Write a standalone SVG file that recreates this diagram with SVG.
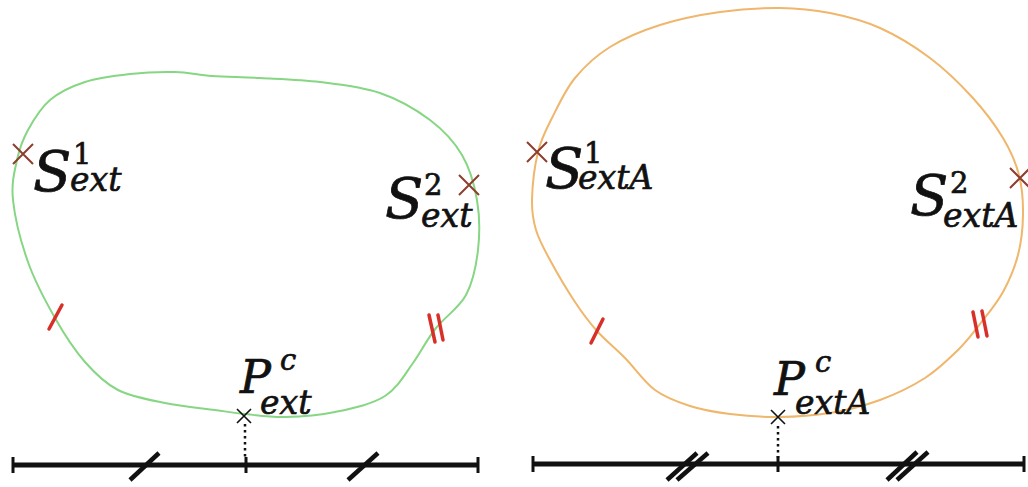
<svg xmlns="http://www.w3.org/2000/svg" width="1028" height="487" viewBox="0 0 1028 487">
<style>
.lbl{font-family:"DejaVu Serif","Liberation Serif",serif;font-style:italic;fill:#111;stroke:#111;stroke-width:0.7}
.big{font-size:56px}
.pbig{font-size:46px}
.sub{font-size:33px}
.sup{font-size:29px;font-style:normal}
.supi{font-size:29px}
.green{fill:none;stroke:#86d683;stroke-width:2}
.orange{fill:none;stroke:#efb66c;stroke-width:2}
.tick{stroke:#d83028;stroke-width:3.5;stroke-linecap:round}
.cross{stroke:#8e3e2e;stroke-width:2}
.pcross{stroke:#111;stroke-width:1.6}
.base{stroke:#111;stroke-width:5}
.cap{stroke:#111;stroke-width:3}
.slash{stroke:#111;stroke-width:4.5}
.dot{stroke:#111;stroke-width:2.5;stroke-dasharray:2.5 3.5}
</style>
<rect width="1028" height="487" fill="#fff"/>
<g id="curve-ext">
<path class="green" d="M13,200 C11.2,183 14.5,171.7 17,160 C19.5,148.3 22.5,140 28,130 C33.5,120 40.5,108 50,100 C59.5,92 71.7,86.3 85,82 C98.3,77.7 115,75.7 130,74 C145,72.3 161.3,71.7 175,72 C188.7,72.3 197.8,75 212,76 C226.2,77 242,77 260,78 C278,79 300,79.5 320,82 C340,84.5 361.7,86.7 380,93 C398.3,99.3 416.3,109.7 430,120 C443.7,130.3 454.2,141.7 462,155 C469.8,168.3 474.3,184.2 477,200 C479.7,215.8 479.8,234.2 478,250 C476.2,265.8 473,282 466,295 C459,308 445,316.8 436,328 C427,339.2 421,352 413,363 C405,374 397.8,387.7 385,396 C372.2,404.3 351.7,408.5 335,412 C318.3,415.5 300,416.7 285,417 C270,417.3 256.7,415.2 245,414 C233.3,412.8 228.3,411.8 215,410 C201.7,408.2 181.2,406.3 165,403 C148.8,399.7 131.3,396.8 118,390 C104.7,383.2 95.5,374 85,362 C74.5,350 64.5,334.7 55,318 C45.5,301.3 35,281.7 28,262 C21,242.3 14.8,217 13,200 Z"/>
<line class="tick" x1="62" y1="305" x2="49" y2="329"/>
<line class="tick" x1="429" y1="315" x2="435" y2="342"/>
<line class="tick" x1="438" y1="315" x2="443" y2="340"/>
</g>
<g id="curve-extA">
<path class="orange" d="M532,200 C532.3,187 534.7,165.7 538,152 C541.3,138.3 545.8,130.3 552,118 C558.2,105.7 565.3,89.8 575,78 C584.7,66.2 595.8,55.8 610,47 C624.2,38.2 641.7,30.8 660,25 C678.3,19.2 700,14.8 720,12 C740,9.2 761.7,7.8 780,8 C798.3,8.2 813.3,9.7 830,13 C846.7,16.3 863.3,20.5 880,28 C896.7,35.5 914.7,46.5 930,58 C945.3,69.5 959.8,83.7 972,97 C984.2,110.3 995.2,125 1003,138 C1010.8,151 1015.7,162.2 1019,175 C1022.3,187.8 1023.2,201.7 1023,215 C1022.8,228.3 1021.3,242.2 1018,255 C1014.7,267.8 1009.3,280.5 1003,292 C996.7,303.5 987.5,314.3 980,324 C972.5,333.7 967.2,341 958,350 C948.8,359 938,369.7 925,378 C912,386.3 895.8,394.2 880,400 C864.2,405.8 847,410.2 830,413 C813,415.8 794.7,416.8 778,417 C761.3,417.2 744.7,415.8 730,414 C715.3,412.2 702.5,410 690,406 C677.5,402 665.8,398 655,390 C644.2,382 634.7,367.8 625,358 C615.3,348.2 605.3,340.3 597,331 C588.7,321.7 582.8,313.8 575,302 C567.2,290.2 556.5,272 550,260 C543.5,248 539,240 536,230 C533,220 531.7,213 532,200 Z"/>
<line class="tick" x1="603" y1="319" x2="591" y2="343"/>
<line class="tick" x1="973" y1="312" x2="978" y2="337"/>
<line class="tick" x1="982" y1="311" x2="987" y2="336"/>
</g>
<g id="S1ext">
<path class="cross" d="M13,144 L33,164 M33,144 L13,164"/>
<text class="lbl big" x="33" y="191">S</text>
<text class="lbl sup" x="73" y="164">1</text>
<text class="lbl sub" x="70" y="191">ext</text>
</g>
<g id="S2ext">
<path class="cross" d="M459,175 L479,195 M479,175 L459,195"/>
<text class="lbl big" x="385" y="218">S</text>
<text class="lbl sup" x="424" y="195">2</text>
<text class="lbl sub" x="421" y="227">ext</text>
</g>
<g id="S1extA">
<path class="cross" d="M527,142 L547,162 M547,142 L527,162"/>
<text class="lbl big" x="545" y="188">S</text>
<text class="lbl sup" x="584" y="163">1</text>
<text class="lbl sub" x="578" y="189">extA</text>
</g>
<g id="S2extA">
<path class="cross" d="M1010,168 L1030,188 M1030,168 L1010,188"/>
<text class="lbl big" x="910" y="215">S</text>
<text class="lbl sup" x="950" y="193">2</text>
<text class="lbl sub" x="943" y="227">extA</text>
</g>
<g id="Pext">
<path class="pcross" d="M237,409 L251,423 M251,409 L237,423"/>
<text class="lbl pbig" x="240" y="393">P</text>
<text class="lbl supi" x="280" y="370">c</text>
<text class="lbl sub" x="260" y="414">ext</text>
</g>
<g id="PextA">
<path class="pcross" d="M771,410 L785,424 M785,410 L771,424"/>
<text class="lbl pbig" x="774" y="395">P</text>
<text class="lbl supi" x="815" y="372">c</text>
<text class="lbl sub" x="795" y="414">extA</text>
</g>
<g id="connectors">
<line class="dot" x1="245" y1="424" x2="245" y2="458"/>
<line class="dot" x1="778" y1="426" x2="778" y2="458"/>
</g>
<g id="segment-ext">
<line class="base" x1="13" y1="465" x2="478" y2="465"/>
<line class="cap" x1="13" y1="457" x2="13" y2="473"/>
<line class="cap" x1="478" y1="457" x2="478" y2="473"/>
<line class="cap" x1="246" y1="457" x2="246" y2="473"/>
<line class="slash" x1="130" y1="480" x2="159" y2="453"/>
<line class="slash" x1="348" y1="480" x2="378" y2="453"/>
</g>
<g id="segment-extA">
<line class="base" x1="533" y1="464" x2="1024" y2="464"/>
<line class="cap" x1="533" y1="456" x2="533" y2="472"/>
<line class="cap" x1="1024" y1="456" x2="1024" y2="472"/>
<line class="cap" x1="778" y1="456" x2="778" y2="472"/>
<line class="slash" x1="667" y1="480" x2="697" y2="453"/>
<line class="slash" x1="677" y1="480" x2="708" y2="453"/>
<line class="slash" x1="887" y1="480" x2="917" y2="452"/>
<line class="slash" x1="897" y1="480" x2="928" y2="452"/>
</g>
</svg>
